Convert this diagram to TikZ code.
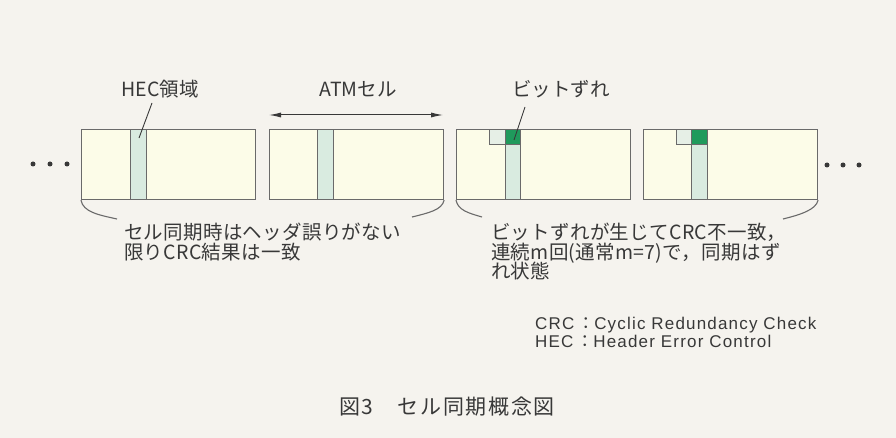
\documentclass[tikz,border=0pt]{standalone}
\usepackage{fontspec}
\setmainfont{Noto Sans CJK JP}
\newfontfamily\latfont[LetterSpace=7]{Liberation Sans}
\usetikzlibrary{arrows.meta}
\definecolor{bg}{HTML}{F5F3EE}
\definecolor{cellfill}{HTML}{FCFCE8}
\definecolor{hecfill}{HTML}{D9EBE0}
\definecolor{bitgreen}{HTML}{1F9A5C}
\definecolor{palebox}{HTML}{E6EFE6}
\definecolor{edge}{HTML}{6A6A6A}
\definecolor{ink}{HTML}{383838}
\begin{document}
\begin{tikzpicture}[x=1pt,y=-1pt,
  cell/.style={draw=edge, fill=cellfill, line width=1.1pt, minimum width=174pt, minimum height=70pt, inner sep=0pt, anchor=north west},
  hec/.style={draw=edge, fill=hecfill, line width=1.1pt, minimum width=15.5pt, minimum height=70pt, inner sep=0pt, anchor=north west},
  errbox/.style={draw=edge, fill=palebox, line width=1.1pt, minimum width=15.5pt, minimum height=15pt, inner sep=0pt, anchor=north west},
  bitbox/.style={draw=edge, fill=bitgreen, line width=1.1pt, minimum width=15.5pt, minimum height=15pt, inner sep=0pt, anchor=north west},
  dot/.style={circle, fill=ink, inner sep=0pt, minimum size=5pt},
  jptext/.style={text=ink, inner sep=0pt, anchor=base west, text height=15pt, text depth=3pt, font=\addfontfeatures{LetterSpace=1.5}\fontsize{19.5}{19.5}\selectfont},
  label/.style={text=ink, inner sep=0pt, anchor=base, font=\fontsize{19.5}{19.5}\selectfont},
  legend/.style={text=ink, inner sep=0pt, anchor=base west, text height=12pt, text depth=3.5pt, font=\latfont\fontsize{17}{17}\selectfont},
  leader/.style={draw=ink, line width=0.9pt},
  bracket/.style={draw=edge, line width=1.1pt}
]
\useasboundingbox (0,0) rectangle (896,438);
\fill[bg] (0,0) rectangle (896,438);

% cells
\node[cell] (c1) at (81,129) {};
\node[hec]  (h1) at (130,129) {};
\node[cell] (c2) at (269,129) {};
\node[hec]  (h2) at (317,129) {};
\node[cell] (c3) at (456,129) {};
\node[hec]  (h3) at (504.5,129) {};
\node[errbox] (e3) at (489,129) {};
\node[bitbox] (g3) at (504.5,129) {};
\node[cell] (c4) at (643,129) {};
\node[hec]  (h4) at (691,129) {};
\node[errbox] (e4) at (675.5,129) {};
\node[bitbox] (g4) at (691,129) {};

% dots
\node[dot] (dl1) at (33,164) {};
\node[dot] (dl2) at (50,164) {};
\node[dot] (dl3) at (67,164) {};
\node[dot] (dr1) at (827,165) {};
\node[dot] (dr2) at (843,165) {};
\node[dot] (dr3) at (859,165) {};

% labels above
\node[label] (hecl) at (160,97) {HEC領域};
\node[label] (atml) at (358,97) {ATMセル};
\node[label] (bitl) at (561,97) {ビットずれ};
\coordinate (hecp) at (139,138);
\coordinate (bitp) at (514,140);
\draw[leader] (152,103) -- (hecp);
\draw[leader] (525,107) -- (bitp);

\coordinate (aL) at (269,115);
\coordinate (aR) at (443,115);
\draw[ink, line width=1pt, {Latex[length=12pt,width=5pt]}-{Latex[length=12pt,width=5pt]}] (aL) -- (aR);

% brackets
\coordinate (b1) at (117,219);
\coordinate (b2) at (412,217);
\coordinate (b3) at (482,217);
\coordinate (b4) at (783,219);
\draw[bracket] (c1.south west) .. controls +(2,12) and +(-18,-4) .. (b1);
\draw[bracket] (c2.south east) .. controls +(-2,10) and +(16,-4) .. (b2);
\draw[bracket] (c3.south west) .. controls +(2,10) and +(-14,-4) .. (b3);
\draw[bracket] (c4.south east) .. controls +(-2,10) and +(16,-4) .. (b4);

% texts
\node[jptext] (t1) at (124,240) {セル同期時はヘッダ誤りがない};
\node[jptext] (t2) at (124,259) {限りCRC結果は一致};
\node[jptext] (t3) at (491,240) {ビットずれが生じてCRC不一致，};
\node[jptext] (t4) at (491,259) {連続m回(通常m=7)で，同期はず};
\node[jptext] (t5) at (491,278) {れ状態};

% legend
\node[legend] (l1) at (535,329) {CRC\,{\rmfamily ：}Cyclic Redundancy Check};
\node[legend] (l2) at (535,347) {HEC\,{\rmfamily ：}Header Error Control};

% title
\node[label, font=\addfontfeatures{LetterSpace=8}\fontsize{21}{21}\selectfont] (title) at (447,414) {図3　セル同期概念図};
\end{tikzpicture}
\end{document}
